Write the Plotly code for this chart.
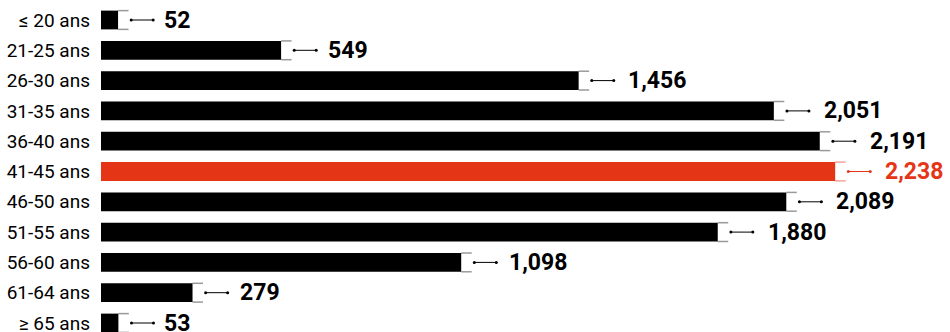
import plotly.graph_objects as go

categories = ["≤ 20 ans", "21-25 ans", "26-30 ans", "31-35 ans", "36-40 ans",
              "41-45 ans", "46-50 ans", "51-55 ans", "56-60 ans", "61-64 ans", "≥ 65 ans"]
values = [52, 549, 1456, 2051, 2191, 2238, 2089, 1880, 1098, 279, 53]
highlight = "41-45 ans"

BLACK = "#000000"
RED = "#E53517"
colors = [RED if c == highlight else BLACK for c in categories]
cap_colors = ["rgba(229,53,23,0.45)" if c == highlight else "rgba(0,0,0,0.4)" for c in categories]

rows = list(range(len(categories)))
X_MAX = 2588          # axis span so that one unit is ~0.328 px
HALF = 0.31           # half bar thickness in row units
CAP = 32              # length of the bracket past the bar end (data units)
LINE_START, LINE_END = 40, 107

fig = go.Figure()

fig.add_trace(go.Bar(
    x=values, y=rows, orientation="h", width=2 * HALF,
    marker=dict(color=colors, line=dict(width=0)),
    hoverinfo="skip", showlegend=False,
))

# bracket caps and connector lines at each bar end
for i, v in enumerate(values):
    fig.add_trace(go.Scatter(
        x=[v, v + CAP, None, v, v + CAP],
        y=[i - HALF, i - HALF, None, i + HALF, i + HALF],
        mode="lines", line=dict(color=cap_colors[i], width=1.5),
        hoverinfo="skip", showlegend=False,
    ))
    fig.add_trace(go.Scatter(
        x=[v + LINE_START, v + LINE_END], y=[i, i],
        mode="lines+markers", line=dict(color=colors[i], width=1),
        marker=dict(color=colors[i], size=3),
        hoverinfo="skip", showlegend=False,
    ))

for i, v in enumerate(values):
    fig.add_annotation(
        x=v, y=i, xref="x", yref="y", xanchor="left", yanchor="middle",
        xshift=44 + round(v * 0.002), showarrow=False, text=f"<b>{v:,}</b>",
        font=dict(family="Roboto", size=23, color=colors[i]),
    )

fig.update_layout(
    width=950, height=332,
    margin=dict(l=101, r=0, t=0, b=0, autoexpand=False),
    paper_bgcolor="white", plot_bgcolor="white",
    xaxis=dict(range=[0, X_MAX], visible=False, fixedrange=True, automargin=False),
    yaxis=dict(range=[10.297, -0.66], tickmode="array", tickvals=rows,
               ticktext=categories, showgrid=False, zeroline=False,
               showline=False, ticks="", ticklabelstandoff=10,
               ticklabeloverflow="allow", automargin=False,
               tickfont=dict(family="Roboto", size=19, color="#000000")),
    font=dict(family="Roboto"),
)

fig.write_html("out.html")
